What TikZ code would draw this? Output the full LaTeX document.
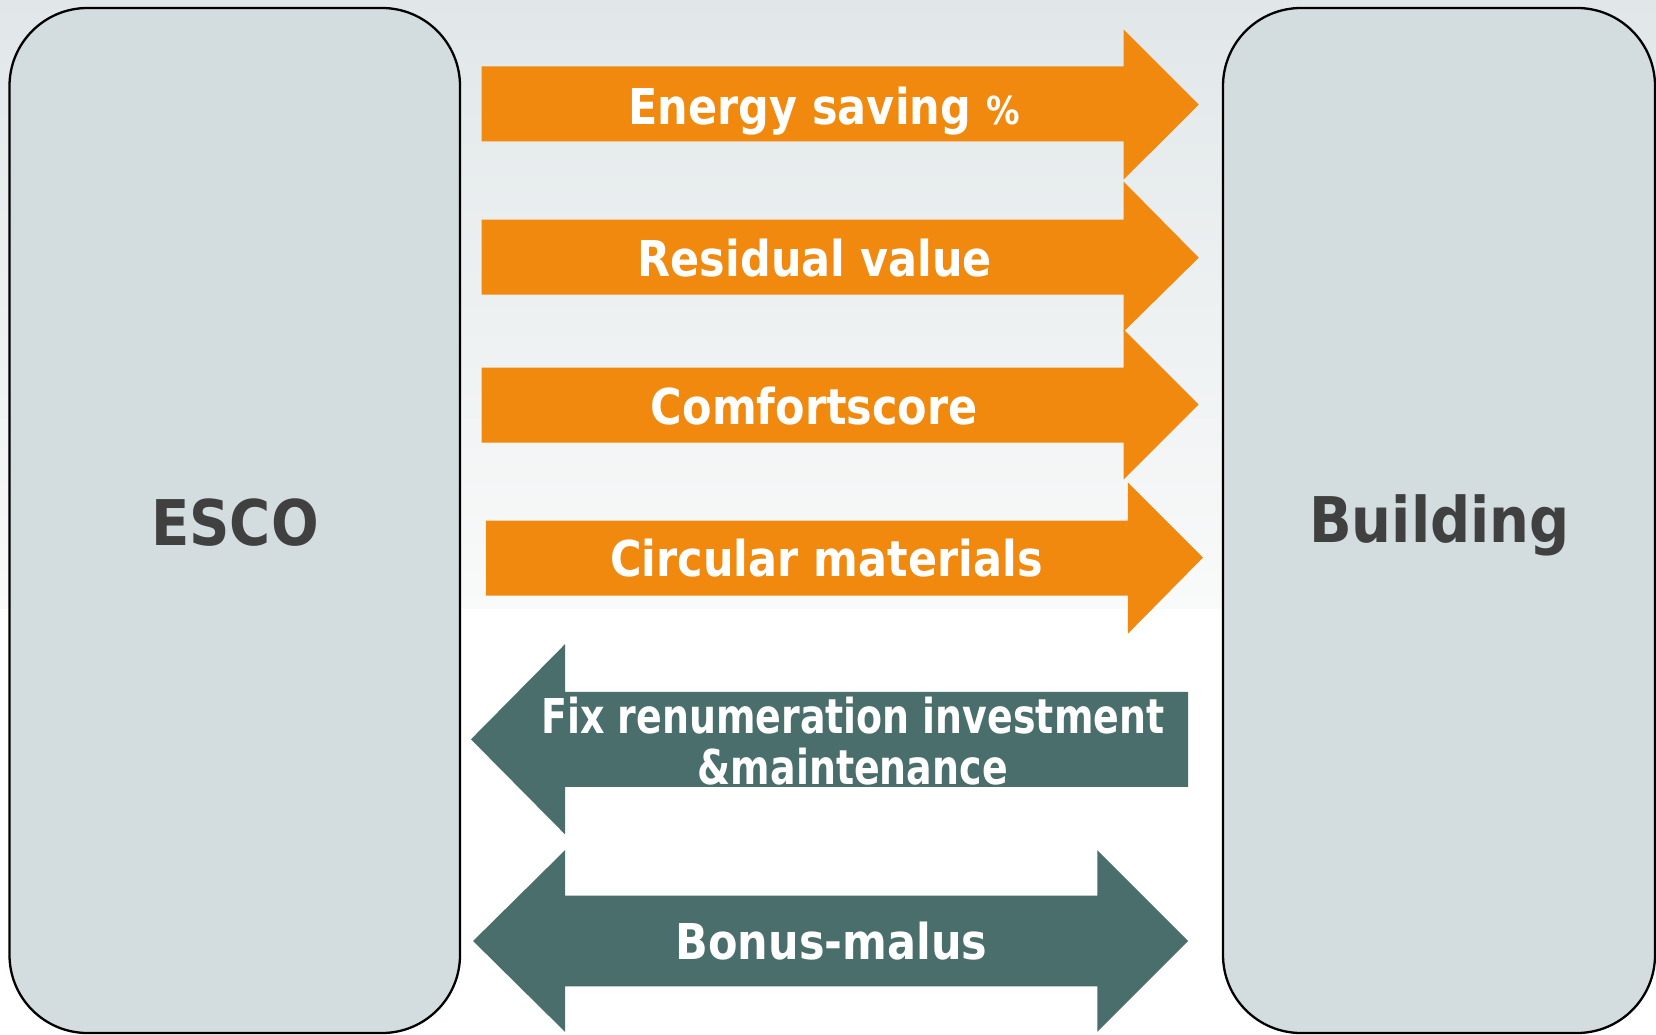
\documentclass[tikz,border=0pt]{standalone}
\usepackage{fontspec}
\setmainfont{DejaVu Sans}
\newfontfamily\lblfont{DejaVu Sans}[FakeStretch=0.87]
\newfontfamily\lblfontc{DejaVu Sans}[FakeStretch=0.79]
\newfontfamily\boxfont{DejaVu Sans}[FakeStretch=0.89]
\definecolor{arrorange}{HTML}{F0890E}
\definecolor{arrteal}{HTML}{4A6E6C}
\definecolor{boxfill}{HTML}{D3DCDE}
\definecolor{boxtext}{HTML}{404040}
\definecolor{bgtop}{HTML}{E1E7E9}
\definecolor{bgbot}{HTML}{F9FAFA}
\tikzset{
  partybox/.style={draw=black, line width=2.3pt, fill=boxfill, rounded corners=78pt, inner sep=0pt},
  partytext/.style={text=boxtext, font=\boxfont\bfseries\fontsize{63}{70}\selectfont},
  orangearrow/.style={fill=arrorange, draw=none},
  tealarrow/.style={fill=arrteal, draw=none},
  arrlabel/.style={text=white, inner sep=0pt, font=\lblfont\bfseries\fontsize{49.4}{55}\selectfont},
  arrlabelc/.style={text=white, inner sep=0pt, align=center, font=\lblfontc\bfseries\fontsize{48}{50.7}\selectfont},
}
\begin{document}
\begin{tikzpicture}[x=1pt,y=-1pt]
\useasboundingbox (0,0) rectangle (1656,1035);
\fill[white] (0,0) rectangle (1656,1035);
\shade[top color=bgtop, bottom color=bgbot] (0,0) rectangle (1656,608);

% party boxes
\draw[partybox] (9.5,8) rectangle (460,1033);
\draw[partybox] (1223,8) rectangle (1655,1033);
\node[partytext] (esco) at (235,523) {ESCO};
\node[partytext] (building) at (1439.5,525) {Building};

% orange arrows (right)
\fill[orangearrow] (481.6,66.5) -- (1123.7,66.5) -- (1123.7,29.6) -- (1198.7,104.6) -- (1123.7,179.5) -- (1123.7,141.5) -- (481.6,141.5) -- cycle;
\node[arrlabel, anchor=base] (energy) at (824,124.5) {Energy saving {\fontsize{38.5}{40}\selectfont\%}};

\fill[orangearrow] (481.6,219.7) -- (1123.7,219.7) -- (1123.7,181.7) -- (1198.7,257.7) -- (1123.7,331.6) -- (1123.7,294.7) -- (481.6,294.7) -- cycle;
\node[arrlabel] (residual) at (814.8,258.5) {Residual value};

\fill[orangearrow] (481.6,367.5) -- (1123.7,367.5) -- (1123.7,329.5) -- (1198.7,404.5) -- (1123.7,479.5) -- (1123.7,442.5) -- (481.6,442.5) -- cycle;
\node[arrlabel] (comfort) at (814.3,406) {Comfortscore};

\fill[orangearrow] (485.8,520.7) -- (1127.9,520.7) -- (1127.9,482.6) -- (1202.9,557.6) -- (1127.9,633.7) -- (1127.9,595.6) -- (485.8,595.6) -- cycle;
\node[arrlabel] (circular) at (826.5,558.5) {Circular materials};

% teal arrow (left)
\fill[tealarrow] (1188.1,691.8) -- (565,691.8) -- (565,644.2) -- (471,739.3) -- (565,834.3) -- (565,786.8) -- (1188.1,786.8) -- cycle;
\node[arrlabelc] (fix) at (852.8,741.3) {Fix renumeration investment\\\&maintenance};

% teal double arrow
\fill[tealarrow] (565,895.6) -- (1097.3,895.6) -- (1097.3,850.2) -- (1188.1,941) -- (1097.3,1031.8) -- (1097.3,986.4) -- (565,986.4) -- (565,1031.8) -- (473.1,941) -- (565,850.2) -- cycle;
\node[arrlabel] (bonus) at (831.5,941) {Bonus-malus};
\end{tikzpicture}
\end{document}
